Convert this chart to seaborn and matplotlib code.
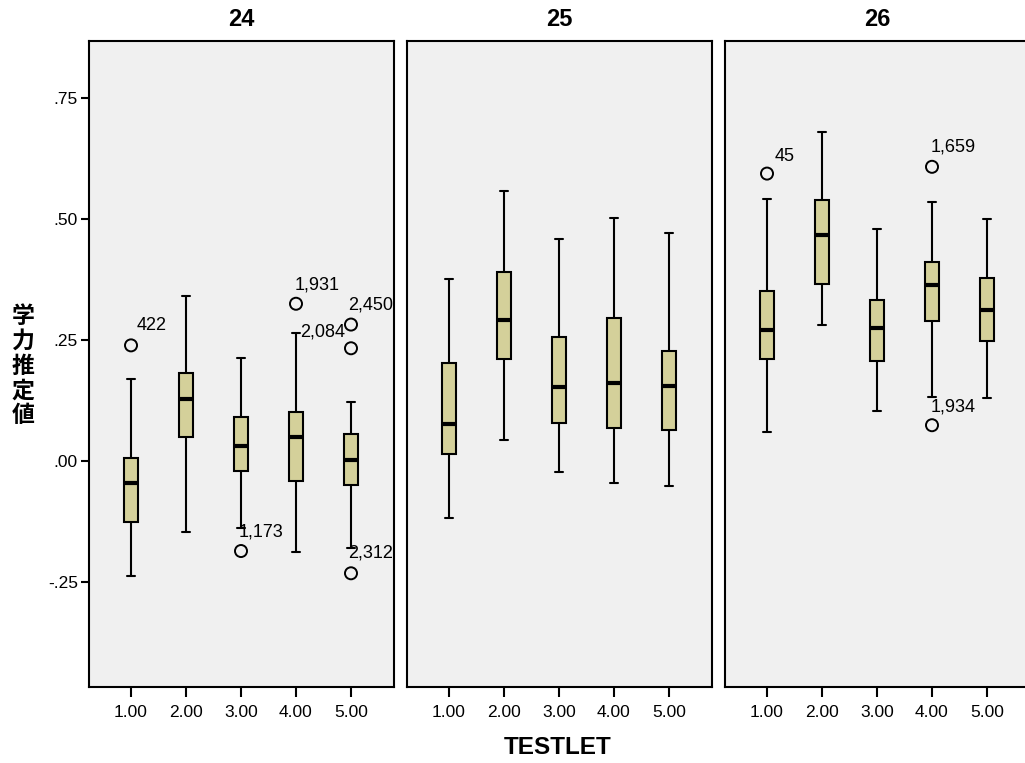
import matplotlib
matplotlib.use("Agg")
import matplotlib.pyplot as plt
import numpy as np
import pandas as pd
import seaborn as sns

# ---- data -------------------------------------------------------------
panels = ["24", "25", "26"]
testlets = [1.0, 2.0, 3.0, 4.0, 5.0]
tick_labels = ["1.00", "2.00", "3.00", "4.00", "5.00"]

# five-number summaries per testlet: lower whisker, Q1, median, Q3, upper whisker
lo_24 = [-0.237, -0.146, -0.138, -0.188, -0.180]
q1_24 = [-0.125, 0.050, -0.020, -0.041, -0.050]
med_24 = [-0.046, 0.129, 0.032, 0.049, 0.003]
q3_24 = [0.006, 0.182, 0.090, 0.101, 0.055]
hi_24 = [0.170, 0.342, 0.213, 0.265, 0.122]

lo_25 = [-0.118, 0.043, -0.022, -0.046, -0.052]
q1_25 = [0.015, 0.211, 0.078, 0.069, 0.064]
med_25 = [0.076, 0.291, 0.154, 0.162, 0.156]
q3_25 = [0.203, 0.391, 0.256, 0.295, 0.228]
hi_25 = [0.376, 0.558, 0.459, 0.502, 0.471]

lo_26 = [0.061, 0.282, 0.103, 0.132, 0.130]
q1_26 = [0.210, 0.366, 0.207, 0.289, 0.247]
med_26 = [0.271, 0.467, 0.274, 0.364, 0.312]
q3_26 = [0.352, 0.539, 0.333, 0.412, 0.378]
hi_26 = [0.541, 0.680, 0.479, 0.535, 0.501]

# outlying cases
out_panel = ["24", "24", "24", "24", "24", "24", "26", "26", "26"]
out_testlet = [1.0, 3.0, 4.0, 5.0, 5.0, 5.0, 1.0, 4.0, 4.0]
out_value = [0.239, -0.186, 0.325, 0.282, 0.233, -0.232, 0.594, 0.608, 0.074]
out_label = ["422", "1,173", "1,931", "2,450", "2,084", "2,312", "45", "1,659", "1,934"]

# label placement relative to its circle, in pixels (right, up)
label_offsets = [(6, 20), (-2, 19), (-1, 19), (-3, 20), (-51, 16),
                 (-3, 20), (8, 17), (-1, 20), (-1, 18)]

summaries = {
    "24": (lo_24, q1_24, med_24, q3_24, hi_24),
    "25": (lo_25, q1_25, med_25, q3_25, hi_25),
    "26": (lo_26, q1_26, med_26, q3_26, hi_26),
}

rows = []
for p in panels:
    for stat in summaries[p]:
        for t, v in zip(testlets, stat):
            rows.append({"panel": p, "TESTLET": t, "value": v})
box_df = pd.DataFrame(rows)
out_df = pd.DataFrame({"panel": out_panel, "TESTLET": out_testlet,
                       "value": out_value, "label": out_label})

# ---- style ------------------------------------------------------------
sns.set_style("white")
plt.rcParams["font.family"] = ["Liberation Sans", "DejaVu Sans"]
plt.rcParams["text.color"] = "black"
plt.rcParams["xtick.color"] = "black"
plt.rcParams["ytick.color"] = "black"
plt.rcParams["axes.labelcolor"] = "black"

W, H = 1025, 763
fig = plt.figure(figsize=(W / 100, H / 100), dpi=100)

box_color = "#D4D09A"
panel_bg = "#F0F0F0"
px = 0.72  # points per pixel at 100 dpi

panel_left = [89, 407, 725]
panel_w, top_px, bottom_px = 305, 41, 687

for i, p in enumerate(panels):
    ax = fig.add_axes([panel_left[i] / W, 1 - bottom_px / H,
                       panel_w / W, (bottom_px - top_px) / H])
    ax.set_facecolor(panel_bg)
    sub = box_df[box_df["panel"] == p]
    sns.boxplot(data=sub, x="TESTLET", y="value", native_scale=True,
                whis=(0, 100), width=0.26, color=box_color, saturation=1,
                linecolor="black", linewidth=1.5, ax=ax,
                medianprops={"linewidth": 3, "color": "black"})

    osub = out_df[out_df["panel"] == p]
    if len(osub):
        sns.scatterplot(data=osub, x="TESTLET", y="value", marker="o", s=75,
                        facecolor="none", edgecolor="black", linewidth=1.4,
                        ax=ax, zorder=5, legend=False)
        for j, r in osub.iterrows():
            dx, dy = label_offsets[j]
            ax.annotate(r["label"], (r["TESTLET"], r["value"]),
                        xytext=(dx * px, dy * px), textcoords="offset points",
                        ha="left", va="center", fontsize=13, color="black")

    ax.set_xlim(0.236, 5.782)
    ax.set_ylim(-0.467, 0.868)
    ax.set_xticks(testlets)
    ax.set_xticklabels(tick_labels, fontsize=12.5)
    ax.tick_params(axis="x", direction="out", length=7, width=1.5,
                   color="black", pad=6, bottom=True)
    yticks = [-0.25, 0.0, 0.25, 0.5, 0.75]
    if i == 0:
        ax.set_yticks(yticks)
        ax.set_yticklabels(["-.25", ".00", ".25", ".50", ".75"], fontsize=12.5)
        ax.tick_params(axis="y", direction="out", length=6, width=1.5,
                       color="black", pad=2, left=True)
    else:
        ax.set_yticks([])
    ax.set_xlabel("")
    ax.set_ylabel("")
    for s in ax.spines.values():
        s.set_visible(True)
        s.set_color("black")
        s.set_linewidth(1.5)
    ax.set_title(p, fontsize=17, fontweight="bold", pad=11)

fig.text(23 / W, 1 - 366 / H, "学\n力\n推\n定\n値", ha="center", va="center",
         fontsize=16.5, fontweight="bold", linespacing=1.1,
         family=["Noto Sans CJK JP", "DejaVu Sans"])
fig.text(558 / W, 1 - 747 / H, "TESTLET", ha="center", va="center",
         fontsize=17.5, fontweight="bold")

fig.savefig("out.png", dpi=100)
